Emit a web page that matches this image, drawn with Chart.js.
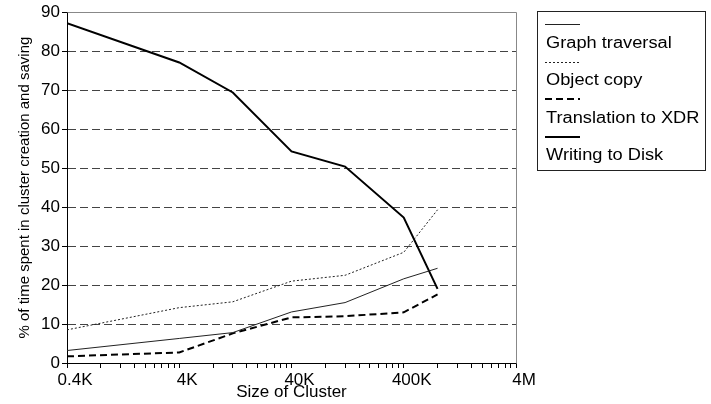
<!DOCTYPE html>
<html>
<head>
<meta charset="utf-8">
<script src="https://cdn.jsdelivr.net/npm/chart.js@4/dist/chart.umd.min.js"></script>
<style>
  body { margin: 0; background: #fff; }
  #wrap { width: 711px; height: 404px; }
</style>
</head>
<body>
<div id="wrap"><canvas id="clusterChart" width="711" height="404"></canvas></div>
<script>
  // Cluster sizes (objects) and % of time per phase
  const clusterSizes = [400, 4000, 12000, 40000, 120000, 400000, 800000];
  const graphTraversal = [3.2, 6.3, 7.8, 13.1, 15.5, 21.6, 24.3];
  const objectCopy = [8.5, 14.2, 15.7, 21.0, 22.5, 28.4, 39.3];
  const translationXDR = [1.7, 2.7, 7.6, 11.7, 12.0, 13.0, 17.6];
  const writingDisk = [87.2, 77.1, 69.4, 54.3, 50.4, 37.3, 19.0];

  const xTickValues = [400, 4000, 40000, 400000, 4000000];
  const xTickLabels = ["0.4K", "4K", "40K", "400K", "4M"];
  const yTicks = [0, 10, 20, 30, 40, 50, 60, 70, 80, 90];

  const fontFamily = "'Liberation Sans', Arial, sans-serif";

  const seriesStyle = [
    { label: "Graph traversal", data: graphTraversal, width: 1, dash: [], color: "#222" },
    { label: "Object copy", data: objectCopy, width: 1, dash: [2, 2], color: "#222" },
    { label: "Translation to XDR", data: translationXDR, width: 2, dash: [7, 4], color: "#000" },
    { label: "Writing to Disk", data: writingDisk, width: 2, dash: [], color: "#000" },
  ];

  // top/right frame of the plot area
  const framePlugin = {
    id: "frame",
    beforeDatasetsDraw(chart) {
      const { ctx, chartArea: a } = chart;
      ctx.save();
      ctx.strokeStyle = "#888";
      ctx.lineWidth = 1;
      ctx.beginPath();
      ctx.moveTo(Math.round(a.left) + 0.5, Math.round(a.top) + 0.5);
      ctx.lineTo(Math.round(a.right) + 0.5, Math.round(a.top) + 0.5);
      ctx.lineTo(Math.round(a.right) + 0.5, Math.round(a.bottom) + 0.5);
      ctx.stroke();
      ctx.restore();
    },
  };

  // legend box on the right: sample line above each label
  const boxLegend = {
    id: "boxLegend",
    afterDraw(chart) {
      const ctx = chart.ctx;
      ctx.save();
      ctx.strokeStyle = "#222";
      ctx.lineWidth = 1;
      ctx.strokeRect(537.5, 11.5, 168, 159);
      chart.data.datasets.forEach((ds, i) => {
        const y = 24 + i * 37.5;
        ctx.beginPath();
        ctx.lineWidth = ds.borderWidth;
        ctx.strokeStyle = ds.borderColor;
        ctx.setLineDash(ds.borderDash || []);
        ctx.moveTo(545, Math.round(y) + (ds.borderWidth === 1 ? 0.5 : 0));
        ctx.lineTo(580, Math.round(y) + (ds.borderWidth === 1 ? 0.5 : 0));
        ctx.stroke();
        ctx.setLineDash([]);
        ctx.save();
        ctx.translate(546, y + 23.5);
        ctx.scale(1.14, 1);
        ctx.fillStyle = "#000";
        ctx.font = "16px " + fontFamily;
        ctx.textBaseline = "alphabetic";
        ctx.fillText(ds.label, 0, 0);
        ctx.restore();
      });
      ctx.restore();
    },
  };

  const ctx = document.getElementById("clusterChart").getContext("2d");
  const clusterChart = new Chart(ctx, {
    type: "line",
    data: {
      datasets: seriesStyle.map((s) => ({
        label: s.label,
        data: clusterSizes.map((x, i) => ({ x: x, y: s.data[i] })),
        borderColor: s.color,
        borderWidth: s.width,
        borderDash: s.dash,
        pointRadius: 0,
        tension: 0,
        fill: false,
      })),
    },
    options: {
      responsive: false,
      animation: false,
      layout: { padding: { left: 0, top: 11, right: 195, bottom: 0 } },
      plugins: {
        legend: { display: false },
        tooltip: { enabled: false },
      },
      scales: {
        x: {
          type: "logarithmic",
          min: 400,
          max: 4000000,
          afterBuildTicks: (scale) => {
            const ticks = [];
            for (let d = 0; d < xTickValues.length; d++) {
              ticks.push({ value: xTickValues[d] });
              if (d < xTickValues.length - 1) {
                for (let k = 2; k <= 9; k++) ticks.push({ value: xTickValues[d] * k });
              }
            }
            scale.ticks = ticks;
          },
          afterFit: (scale) => { scale.height = 41; },
          ticks: {
            autoSkip: false,
            maxRotation: 0,
            padding: 2,
            labelOffset: 8,
            color: "#000",
            font: { family: fontFamily, size: 17 },
            callback: (v) => {
              const i = xTickValues.indexOf(v);
              return i >= 0 ? xTickLabels[i] : "";
            },
          },
          grid: {
            drawOnChartArea: false,
            drawTicks: true,
            tickLength: 5,
            tickColor: "#000",
          },
          border: { display: true, color: "#000", width: 1 },
          title: {
            display: true,
            text: "Size of Cluster",
            color: "#000",
            font: { family: fontFamily, size: 17 },
            padding: { top: 0, bottom: 1 },
          },
        },
        y: {
          min: 0,
          max: 90,
          afterBuildTicks: (scale) => {
            scale.ticks = yTicks.map((v) => ({ value: v }));
          },
          afterFit: (scale) => { scale.width = 67; },
          ticks: {
            padding: 2,
            color: "#000",
            font: { family: fontFamily, size: 17 },
          },
          grid: {
            color: (c) => (c.tick && (c.tick.value === 0 || c.tick.value === 90) ? "rgba(0,0,0,0)" : "#444"),
            tickColor: "#000",
            tickLength: 5,
            lineWidth: 1,
          },
          border: { display: true, color: "#000", width: 1, dash: [8, 4] },
          title: {
            display: true,
            text: "% of time spent in cluster creation and saving",
            color: "#000",
            font: { family: fontFamily, size: 15 },
            padding: { top: 16, bottom: 0 },
          },
        },
      },
    },
    plugins: [framePlugin, boxLegend],
  });
</script>
</body>
</html>
